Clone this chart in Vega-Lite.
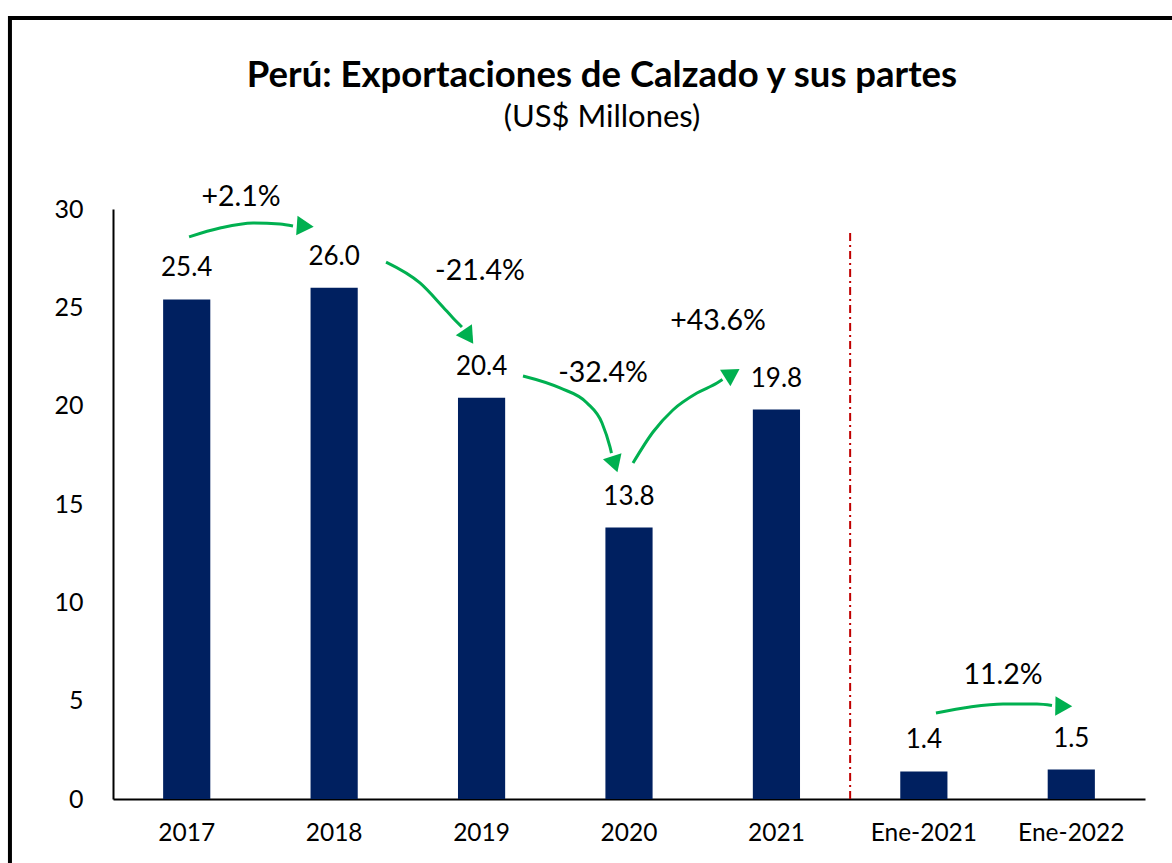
{
  "$schema": "https://vega.github.io/schema/vega-lite/v6.json",
  "width": 1032,
  "height": 590,
  "autosize": {"type": "none"},
  "padding": {"left": 113, "top": 209, "right": 27, "bottom": 64},
  "background": "white",
  "config": {"view": {"stroke": null}, "font": "Lato", "axis": {"grid": false}},
  "title": {
    "text": "Perú: Exportaciones de Calzado y sus partes",
    "subtitle": "(US$ Millones)",
    "anchor": "middle",
    "frame": "group",
    "dx": -27,
    "offset": -117,
    "font": "Lato",
    "fontSize": 36.5,
    "fontWeight": "bold",
    "color": "black",
    "subtitleFont": "Lato",
    "subtitleFontSize": 31,
    "subtitleColor": "black",
    "subtitlePadding": 9
  },
  "layer": [
    {
      "data": {"values": [
        {"periodo": "2017", "valor": 25.4},
        {"periodo": "2018", "valor": 26.0},
        {"periodo": "2019", "valor": 20.4},
        {"periodo": "2020", "valor": 13.8},
        {"periodo": "2021", "valor": 19.8},
        {"periodo": "Ene-2021", "valor": 1.4},
        {"periodo": "Ene-2022", "valor": 1.5}
      ]},
      "encoding": {
        "x": {"field": "periodo", "type": "nominal", "sort": null,
          "scale": {"paddingInner": 0.68, "paddingOuter": 0.34},
          "axis": {"title": null, "labelAngle": 0, "ticks": false, "domainColor": "black", "domainWidth": 2,
                   "labelFont": "Lato", "labelFontSize": 24.5, "labelColor": "black", "labelPadding": 22}},
        "y": {"field": "valor", "type": "quantitative",
          "scale": {"domain": [0, 30], "nice": false},
          "axis": {"title": null, "ticks": false, "domainColor": "black", "domainWidth": 2, "values": [0, 5, 10, 15, 20, 25, 30],
                   "labelFont": "Lato", "labelFontSize": 25, "labelColor": "black", "labelPadding": 30}}
      },
      "layer": [
        {"mark": {"type": "bar", "color": "#002060"}},
        {"mark": {"type": "text", "dy": -31, "fontSize": 26, "baseline": "middle", "align": "center", "color": "black", "font": "Lato"},
         "encoding": {"text": {"field": "valor", "type": "quantitative", "format": ".1f"}}}
      ]
    },
    {
      "layer": [
        {
          "data": {"values": [{}]},
          "mark": {"type": "rect", "fillOpacity": 0, "stroke": "black", "strokeWidth": 4, "clip": false},
          "encoding": {
            "x": {"datum": -0.699, "type": "quantitative", "scale": {"domain": [0, 7], "nice": false, "zero": false}, "axis": null},
            "x2": {"datum": 8},
            "y": {"datum": 39.71, "type": "quantitative", "scale": {"domain": [0, 30], "nice": false}, "axis": null},
            "y2": {"datum": -5}
          }
        },
        {
          "data": {"values": [{}]},
          "mark": {"type": "rule", "color": "#C00000", "strokeWidth": 2, "strokeDash": [8, 4, 2, 4], "clip": false},
          "encoding": {
            "x": {"datum": 5, "type": "quantitative", "scale": {"domain": [0, 7], "nice": false, "zero": false}, "axis": null},
            "y": {"datum": 0, "type": "quantitative", "scale": {"domain": [0, 30], "nice": false}, "axis": null},
            "y2": {"datum": 28.83}
          }
        },
        {
          "data": {"values": [
            {"flecha": "a1", "x": 0.516, "y": 28.58},
            {"flecha": "a1", "x": 0.726, "y": 29.03},
            {"flecha": "a1", "x": 0.950, "y": 29.29},
            {"flecha": "a1", "x": 1.133, "y": 29.24},
            {"flecha": "a1", "x": 1.221, "y": 29.14},
            {"flecha": "a2", "x": 1.852, "y": 27.30},
            {"flecha": "a2", "x": 2.082, "y": 26.24},
            {"flecha": "a2", "x": 2.238, "y": 25.02},
            {"flecha": "a2", "x": 2.306, "y": 24.46},
            {"flecha": "a2", "x": 2.367, "y": 24.00},
            {"flecha": "a3", "x": 2.781, "y": 21.51},
            {"flecha": "a3", "x": 3.032, "y": 20.90},
            {"flecha": "a3", "x": 3.215, "y": 20.14},
            {"flecha": "a3", "x": 3.317, "y": 19.12},
            {"flecha": "a3", "x": 3.371, "y": 17.90},
            {"flecha": "a3", "x": 3.381, "y": 17.59},
            {"flecha": "a4", "x": 3.527, "y": 17.08},
            {"flecha": "a4", "x": 3.663, "y": 18.66},
            {"flecha": "a4", "x": 3.798, "y": 19.78},
            {"flecha": "a4", "x": 3.961, "y": 20.64},
            {"flecha": "a4", "x": 4.097, "y": 21.15},
            {"flecha": "a4", "x": 4.134, "y": 21.33},
            {"flecha": "a5", "x": 5.582, "y": 4.373},
            {"flecha": "a5", "x": 5.813, "y": 4.678},
            {"flecha": "a5", "x": 6.037, "y": 4.830},
            {"flecha": "a5", "x": 6.267, "y": 4.830},
            {"flecha": "a5", "x": 6.369, "y": 4.754}
          ]},
          "mark": {"type": "line", "color": "#00B050", "strokeWidth": 3, "interpolate": "monotone", "clip": false},
          "encoding": {
            "x": {"field": "x", "type": "quantitative", "scale": {"domain": [0, 7], "nice": false, "zero": false}, "axis": null},
            "y": {"field": "y", "type": "quantitative", "scale": {"domain": [0, 30], "nice": false}, "axis": null},
            "detail": {"field": "flecha", "type": "nominal"}
          }
        },
        {
          "data": {"values": [
            {"flecha": "a1", "x": 1.285, "y": 29.14, "angulo": 94},
            {"flecha": "a2", "x": 2.401, "y": 23.62, "angulo": 146},
            {"flecha": "a3", "x": 3.398, "y": 17.16, "angulo": 162},
            {"flecha": "a4", "x": 4.185, "y": 21.56, "angulo": 58},
            {"flecha": "a5", "x": 6.430, "y": 4.729, "angulo": 91}
          ]},
          "mark": {"type": "point", "shape": "triangle", "filled": true, "color": "#00B050", "size": 380, "opacity": 1, "clip": false},
          "encoding": {
            "x": {"field": "x", "type": "quantitative", "scale": {"domain": [0, 7], "nice": false, "zero": false}, "axis": null},
            "y": {"field": "y", "type": "quantitative", "scale": {"domain": [0, 30], "nice": false}, "axis": null},
            "angle": {"field": "angulo", "type": "quantitative", "scale": null}
          }
        },
        {
          "data": {"values": [
            {"x": 0.868, "y": 30.61, "t": "+2.1%"},
            {"x": 2.489, "y": 26.85, "t": "-21.4%"},
            {"x": 3.324, "y": 21.66, "t": "-32.4%"},
            {"x": 4.104, "y": 24.30, "t": "+43.6%"},
            {"x": 6.037, "y": 6.305, "t": "11.2%"}
          ]},
          "mark": {"type": "text", "fontSize": 28.5, "color": "black", "baseline": "middle", "align": "center", "font": "Lato", "clip": false},
          "encoding": {
            "x": {"field": "x", "type": "quantitative", "scale": {"domain": [0, 7], "nice": false, "zero": false}, "axis": null},
            "y": {"field": "y", "type": "quantitative", "scale": {"domain": [0, 30], "nice": false}, "axis": null},
            "text": {"field": "t", "type": "nominal"}
          }
        }
      ]
    }
  ],
  "resolve": {"scale": {"x": "independent", "y": "independent"}}
}
